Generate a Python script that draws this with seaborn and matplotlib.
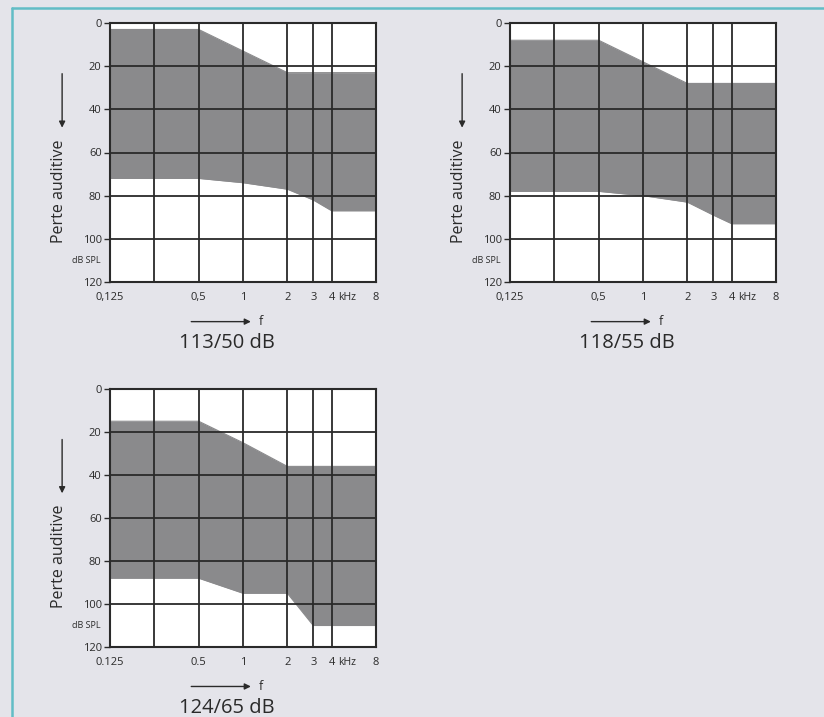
import matplotlib
matplotlib.use("Agg")
import matplotlib.pyplot as plt
import matplotlib.transforms as mtransforms
from matplotlib.lines import Line2D
from matplotlib.ticker import NullLocator
import pandas as pd
import seaborn as sns

# Audiogram frequency nodes (kHz) and hearing-loss band limits (dB)
freqs = [0.125, 0.5, 1, 2, 3, 4, 8]

top_113 = [3, 3, 13, 23, 23, 23, 23]
bottom_113 = [72, 72, 74, 77, 82, 87, 87]

top_118 = [8, 8, 18, 28, 28, 28, 28]
bottom_118 = [78, 78, 80, 83, 89, 93, 93]

top_124 = [15, 15, 25, 36, 36, 36, 36]
bottom_124 = [88, 88, 95, 95, 110, 110, 110]

titles = ["113/50 dB", "118/55 dB", "124/65 dB"]

grid_freqs = [0.125, 0.25, 0.5, 1, 2, 3, 4, 8]
xlabels_comma = ["0,125", "", "0,5", "1", "2", "3", "4", "8"]
xlabels_dot = ["0.125", "", "0.5", "1", "2", "3", "4", "8"]
yticks = [0, 20, 40, 60, 80, 100, 120]

sns.set_theme(style="white")
plt.rcParams["font.family"] = ["Open Sans", "DejaVu Sans"]

BG = "#e4e4ea"
BAND = "#8a8a8c"
INK = "#2a2a2a"
TEAL = "#62bdc6"

W, H = 824, 717
fig = plt.figure(figsize=(W / 100, H / 100), dpi=100, facecolor=BG)


def rect(left, top, right, bottom):
    return [left / W, (H - bottom) / H, (right - left) / W, (bottom - top) / H]


panels = [
    (rect(110, 23, 376, 282), top_113, bottom_113, titles[0], xlabels_comma),
    (rect(510, 23, 776, 282), top_118, bottom_118, titles[1], xlabels_comma),
    (rect(110, 389, 376, 647), top_124, bottom_124, titles[2], xlabels_dot),
]

for pos, top, bottom, title, xlabels in panels:
    ax = fig.add_axes(pos)
    ax.set_facecolor("white")
    df = pd.DataFrame({"f": freqs, "top": top, "bottom": bottom})

    ax.fill_between(df["f"], df["top"], df["bottom"], color=BAND, lw=0, zorder=1)
    sns.lineplot(data=df, x="f", y="top", ax=ax, color=BAND, lw=0.8, zorder=1.5)
    sns.lineplot(data=df, x="f", y="bottom", ax=ax, color=BAND, lw=0.8, zorder=1.5)

    ax.set_xscale("log", base=2)
    ax.set_xlim(0.125, 8)
    ax.set_ylim(120, 0)
    ax.set_xlabel("")
    ax.set_ylabel("")

    ax.set_xticks(grid_freqs)
    ax.set_xticklabels(xlabels)
    ax.xaxis.set_minor_locator(NullLocator())
    ax.set_yticks(yticks)
    ax.set_yticklabels([str(v) for v in yticks])

    ax.set_axisbelow(False)
    ax.grid(True, color=INK, lw=1.3)
    ax.tick_params(axis="x", bottom=True, length=0, pad=7.5, labelsize=8,
                   labelcolor=INK)
    ax.tick_params(axis="y", left=True, length=4, width=1, color=INK, pad=2,
                   labelsize=8, labelcolor=INK)
    for sp in ax.spines.values():
        sp.set_color(INK)
        sp.set_linewidth(1.5)
        sp.set_zorder(4)

    # unit after the 4 kHz tick label
    ax.annotate("kHz", xy=(4, 0), xycoords=ax.get_xaxis_transform(),
                xytext=(4.5, -7.5), textcoords="offset points",
                ha="left", va="top", fontsize=7.5, color=INK,
                annotation_clip=False)

    # dB SPL unit between the 100 and 120 ticks
    ytrans = mtransforms.blended_transform_factory(ax.transAxes, ax.transData)
    ax.text(-0.035, 110, "dB SPL", transform=ytrans, ha="right", va="center",
            fontsize=6.5, color=INK)

    # vertical axis title with downward arrow
    ax.text(-0.19, 0.35, "Perte auditive", transform=ax.transAxes,
            rotation=90, ha="center", va="center", fontsize=11.5, color=INK)
    ax.annotate("", xy=(-0.18, 0.585), xytext=(-0.18, 0.815),
                xycoords="axes fraction",
                arrowprops=dict(arrowstyle="-|>", color=INK, lw=1,
                                mutation_scale=9),
                annotation_clip=False)

    # frequency arrow and panel caption
    ax.annotate("", xy=(0.54, -0.153), xytext=(0.295, -0.153),
                xycoords="axes fraction",
                arrowprops=dict(arrowstyle="-|>", color=INK, lw=1,
                                mutation_scale=9),
                annotation_clip=False)
    ax.text(0.56, -0.153, "f", transform=ax.transAxes, ha="left",
            va="center", fontsize=9, color=INK)
    ax.text(0.44, -0.235, title, transform=ax.transAxes, ha="center",
            va="center", fontsize=14.5, color=INK)

# teal frame on the top and left edges
fig.add_artist(Line2D([12 / W, 1], [1 - 7.5 / H] * 2, color=TEAL, lw=1.8,
                      transform=fig.transFigure))
fig.add_artist(Line2D([12 / W] * 2, [0, 1 - 7.5 / H], color=TEAL, lw=1.8,
                      transform=fig.transFigure))

fig.savefig("out.png", dpi=100, facecolor=fig.get_facecolor())
